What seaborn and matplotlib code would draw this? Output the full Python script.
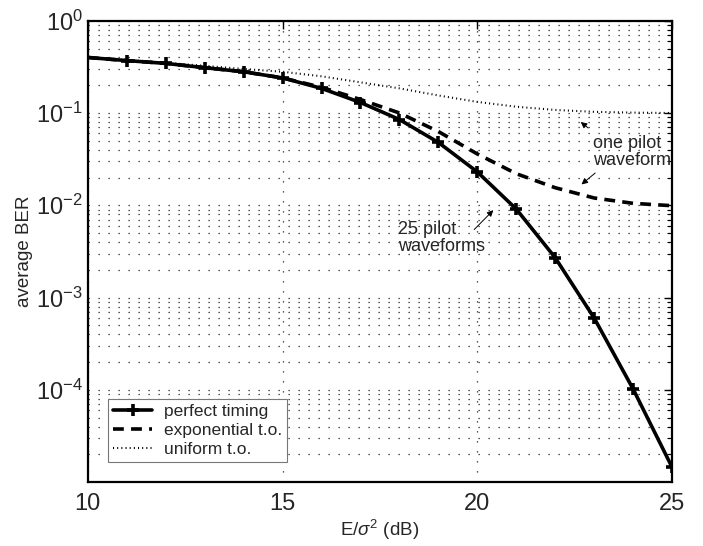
import numpy as np
import pandas as pd
import matplotlib
matplotlib.use("Agg")
import matplotlib.pyplot as plt
from matplotlib.ticker import FixedLocator, LogLocator, NullFormatter
import seaborn as sns

snr_db = [10, 11, 12, 13, 14, 15, 16, 17, 18, 19, 20, 21, 22, 23, 24, 25]
ber_perfect = [0.40, 0.37, 0.345, 0.31, 0.28, 0.24, 0.185, 0.13, 0.085, 0.048,
               0.023, 0.0091, 0.0027, 6.0e-4, 1.02e-4, 1.45e-5]
ber_exponential = [0.40, 0.37, 0.345, 0.31, 0.28, 0.24, 0.19, 0.14, 0.10, 0.063,
                   0.036, 0.022, 0.0155, 0.012, 0.0105, 0.0099]
ber_uniform = [0.40, 0.375, 0.35, 0.325, 0.30, 0.28, 0.25, 0.215, 0.185, 0.155,
               0.132, 0.117, 0.108, 0.103, 0.101, 0.10]
series_names = ["perfect timing", "exponential t.o.", "uniform t.o."]
ytick_vals = [1e-4, 1e-3, 1e-2, 1e-1, 1e0]
ytick_labels = [r"$10^{-4}$", r"$10^{-3}$", r"$10^{-2}$", r"$10^{-1}$", r"$10^{0}$"]
xtick_vals = [10, 15, 20, 25]

df = pd.DataFrame({
    "snr": snr_db * 3,
    "ber": ber_perfect + ber_exponential + ber_uniform,
    "series": [series_names[0]] * len(snr_db) + [series_names[1]] * len(snr_db)
              + [series_names[2]] * len(snr_db),
})

sns.set_style("white")
plt.rcParams["font.family"] = ["Liberation Sans", "DejaVu Sans"]
plt.rcParams["mathtext.fontset"] = "custom"
plt.rcParams["mathtext.rm"] = "Liberation Sans"
plt.rcParams["mathtext.it"] = "Liberation Sans:italic"

fig = plt.figure(figsize=(7.03, 5.46), dpi=100)
ax = fig.add_axes([0.125, 0.117, 0.831, 0.845])

grid_kw = dict(color="#222222", linestyle=(0, (1, 7)), linewidth=0.9)

sns.lineplot(data=df[df.series == series_names[0]], x="snr", y="ber", ax=ax,
             color="black", linewidth=2.6, marker="+", markersize=9,
             markeredgewidth=2.6, markeredgecolor="black", markerfacecolor="black",
             markevery=list(range(1, len(snr_db))),
             label=series_names[0], zorder=5)
sns.lineplot(data=df[df.series == series_names[1]], x="snr", y="ber", ax=ax,
             color="black", linewidth=2.6, linestyle=(0, (3.0, 2.0)),
             label=series_names[1], zorder=4)
sns.lineplot(data=df[df.series == series_names[2]], x="snr", y="ber", ax=ax,
             color="black", linewidth=1.5, linestyle=(0, (0.5, 1.5)),
             label=series_names[2], zorder=3)

ax.set_yscale("log")
ax.set_xlim(10, 25)
ax.set_ylim(1e-5, 1e0)
ax.yaxis.set_major_locator(FixedLocator(ytick_vals))
ax.set_yticklabels(ytick_labels)
ax.yaxis.set_minor_locator(LogLocator(base=10, subs=np.arange(2, 10)))
ax.yaxis.set_minor_formatter(NullFormatter())
ax.set_xticks(xtick_vals)
ax.set_xticklabels([str(v) for v in xtick_vals])

ax.grid(True, which="major", axis="x", **grid_kw)
ax.grid(True, which="both", axis="y", **grid_kw)
ax.set_axisbelow(True)

ax.tick_params(axis="both", which="both", direction="in", top=True, right=True,
               labelsize=17, color="black")
ax.tick_params(which="major", length=6, width=1)
ax.tick_params(which="minor", length=3.5, width=0.8)
ax.tick_params(axis="x", pad=8)
for sp in ax.spines.values():
    sp.set_visible(True)
    sp.set_color("black")
    sp.set_linewidth(1.6)

ax.set_xlabel(r"E/$\sigma^2$ (dB)", fontsize=13.5, labelpad=2)
ax.set_ylabel("average BER", fontsize=13.5, labelpad=2)

arrow_kw = dict(arrowstyle="-|>", color="black", lw=0.7, mutation_scale=9)
ax.annotate("", xy=(22.6, 0.0835), xytext=(22.9, 0.066), arrowprops=arrow_kw)
ax.annotate("", xy=(22.62, 0.0161), xytext=(23.08, 0.0234), arrowprops=arrow_kw)
ax.text(22.98, 0.0585, "one pilot\nwaveform", fontsize=13, ha="left", va="top",
        linespacing=1.05)
ax.annotate("", xy=(20.46, 0.0093), xytext=(19.87, 0.0052), arrowprops=arrow_kw)
ax.text(17.97, 0.0068, "25 pilot\nwaveforms", fontsize=13, ha="left", va="top",
        linespacing=1.05)

leg = ax.legend(loc="lower left", bbox_to_anchor=(0.02, 0.025), fontsize=12.5,
                frameon=True, fancybox=False, edgecolor="#777777",
                handlelength=2.2, borderpad=0.3, labelspacing=0.2,
                handletextpad=0.7)
leg.get_frame().set_linewidth(0.8)
leg.get_frame().set_facecolor("white")
leg.get_frame().set_alpha(1)

fig.savefig("out.png", dpi=100)
